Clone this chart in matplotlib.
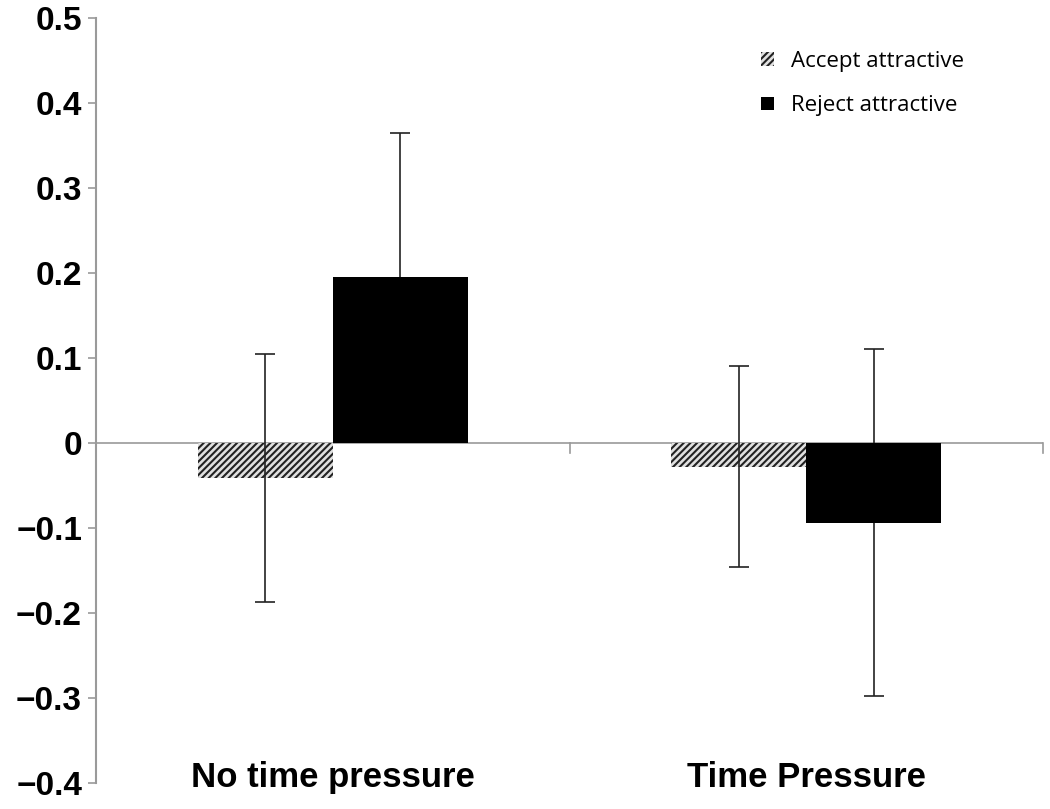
import numpy as np
import matplotlib
matplotlib.use("Agg")
import matplotlib.pyplot as plt
from matplotlib.patches import Patch

# data
categories = ["No time pressure", "Time Pressure"]
series_names = ["Accept attractive", "Reject attractive"]
accept_vals = [-0.041, -0.028]
reject_vals = [0.195, -0.094]
accept_err = [0.146, 0.118]
reject_err = [0.17, 0.204]
y_ticks = [0.5, 0.4, 0.3, 0.2, 0.1, 0, -0.1, -0.2, -0.3, -0.4]

plt.rcParams["hatch.linewidth"] = 1.5
plt.rcParams["hatch.color"] = "#222222"

fig = plt.figure(figsize=(10.5, 8.09), dpi=100)
ax = fig.add_axes([0.0914, 0.032, 0.902, 0.946])

x = np.arange(len(categories))
w = 0.285
grey = "#9a9a9a"

ax.bar(x - w / 2, accept_vals, w, color="#e0e0e0", hatch="/////",
       edgecolor="#222222", linewidth=0, zorder=2)
ax.bar(x + w / 2, reject_vals, w, color="black", linewidth=0, zorder=2)
ax.errorbar(x - w / 2, accept_vals, yerr=accept_err, fmt="none",
            ecolor="#222222", elinewidth=1.2, capsize=7, capthick=1.2, zorder=3)
ax.errorbar(x + w / 2, reject_vals, yerr=reject_err, fmt="none",
            ecolor="#222222", elinewidth=1.2, capsize=7, capthick=1.2, zorder=1.5)

# zero line with category boundary ticks
ax.axhline(0, color=grey, lw=1.2, zorder=1)
for b in np.arange(len(categories) + 1) - 0.5:
    ax.plot([b, b], [0, -0.012], color=grey, lw=1.2, zorder=1, clip_on=False)

ax.set_xlim(-0.5, len(categories) - 0.5)
ax.set_ylim(-0.4, 0.5)
ax.set_yticks(y_ticks)
ax.set_yticklabels(["0" if t == 0 else f"{t:.1f}".replace("-", "\u2212") for t in y_ticks],
                   fontsize=24, fontweight="bold", family="Liberation Sans")
ax.tick_params(axis="y", length=6, width=1.2, color=grey, pad=4)
ax.set_xticks([])

for s in ["top", "right", "bottom"]:
    ax.spines[s].set_visible(False)
ax.spines["left"].set_color(grey)
ax.spines["left"].set_linewidth(1.5)

for xi, c in zip(x, categories):
    ax.text(xi, -0.393, c, ha="center", va="center", fontsize=25,
            fontweight="bold", family="Liberation Sans")

handles = [Patch(facecolor="#e0e0e0", hatch="/////", edgecolor="#222222", linewidth=0),
           Patch(facecolor="black", linewidth=0)]
fig.legend(handles, series_names, loc="upper left", bbox_to_anchor=(0.706, 0.962),
           frameon=False, prop={"family": "Open Sans", "size": 16},
           handlelength=0.55, handleheight=0.55, handletextpad=0.8, labelspacing=1.05)

fig.savefig("out.png", dpi=100)
